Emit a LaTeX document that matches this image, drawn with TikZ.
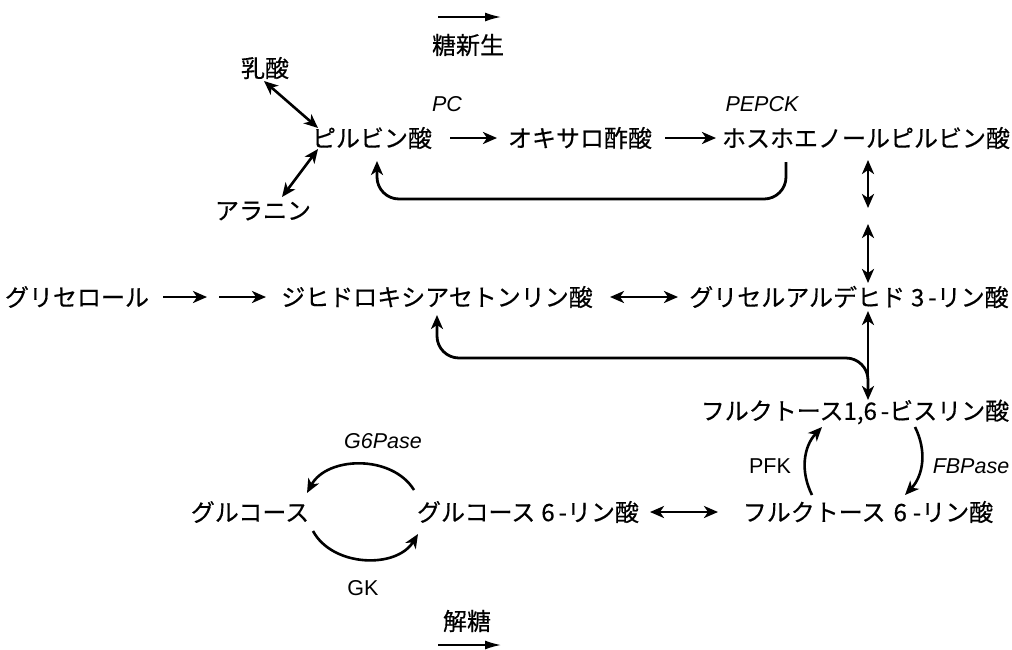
\documentclass[tikz,border=0pt]{standalone}
\usepackage{fontspec}
\setmainfont{Liberation Sans}
\newfontfamily\jp[FakeBold=0.4]{Noto Sans CJK JP}
\usetikzlibrary{arrows.meta}
\begin{document}
\begin{tikzpicture}[x=1pt,y=-1pt,
  lbl/.style={font=\jp\fontsize{24}{27}\selectfont, inner sep=0pt, anchor=center},
  enz/.style={font=\fontsize{21.5}{25}\selectfont\itshape, inner sep=0pt},
  enzu/.style={font=\fontsize{21.5}{25}\selectfont, inner sep=0pt},
  arr/.style={-{Stealth[length=14pt,width=12pt,inset=4pt]}, line width=2.6pt},
  darr/.style={{Stealth[length=14pt,width=12pt,inset=4pt]}-{Stealth[length=14pt,width=12pt,inset=4pt]}, line width=2.6pt},
  thinarr/.style={-{Latex[length=16pt,width=9pt]}, line width=1.6pt},
  curv/.style={-{Stealth[length=14pt,width=12pt,inset=4pt]}, line width=2.8pt, rounded corners=22pt}]
\useasboundingbox (0,0) rectangle (1012,649);
% top direction
\coordinate (ta1) at (438,17); \coordinate (ta2) at (501,17);
\draw[thinarr] (ta1) -- (ta2);
\node[lbl] (tns) at (468,45) {糖新生};
% row 1
\node[lbl] (lac) at (265,68) {乳酸};
\node[lbl] (pyr) at (372,138) {ピルビン酸};
\node[lbl] (ala) at (263,211) {アラニン};
\node[lbl] (oaa) at (580,138) {オキサロ酢酸};
\node[lbl] (pep) at (866,138) {ホスホエノールピルビン酸};
\node[enz] (pc) at (447,104) {PC};
\node[enz] (pepck) at (762,104) {PEPCK};
\coordinate (a1s) at (450,138); \coordinate (a1e) at (497,138);
\draw[arr] (a1s) -- (a1e);
\coordinate (a2s) at (665,138); \coordinate (a2e) at (716,138);
\draw[arr] (a2s) -- (a2e);
\coordinate (l1) at (264,81); \coordinate (l2) at (318,128);
\draw[darr] (l1) -- (l2);
\coordinate (l3) at (282,197); \coordinate (l4) at (318,149);
\draw[darr] (l3) -- (l4);
\coordinate (fb1) at (786,162); \coordinate (fb2) at (786,199);
\coordinate (fb3) at (377,199); \coordinate (fb4) at (377,161);
\draw[curv] (fb1) -- (fb2) -- (fb3) -- (fb4);
% vertical
\coordinate (v1) at (868,160); \coordinate (v2) at (868,208);
\draw[darr] (v1) -- (v2);
\coordinate (v3) at (868,224); \coordinate (v4) at (868,283);
\draw[darr] (v3) -- (v4);
% row 2
\node[lbl] (gly) at (77,297) {グリセロール};
\coordinate (g1) at (163,297); \coordinate (g2) at (207,297);
\draw[arr] (g1) -- (g2);
\coordinate (g3) at (219,297); \coordinate (g4) at (266,297);
\draw[arr] (g3) -- (g4);
\node[lbl] (dhap) at (437,297) {ジヒドロキシアセトンリン酸};
\node[lbl] (g3p) at (849,297) {グリセルアルデヒド\hspace{6pt}3\hspace{4pt}-リン酸};
\coordinate (d1) at (610,297); \coordinate (d2) at (678,297);
\draw[darr] (d1) -- (d2);
\coordinate (v5) at (868,311); \coordinate (v6) at (868,400);
\draw[darr] (v5) -- (v6);
\coordinate (b1) at (868,395); \coordinate (b2) at (868,358);
\coordinate (b3) at (437,358); \coordinate (b4) at (437,315);
\draw[curv] (b1) -- (b2) -- (b3) -- (b4);
% row F16
\node[lbl] (f16) at (855,412) {フルクトース1,6\hspace{4pt}-ビスリン酸};
\node[enzu] (pfk) at (770,466) {PFK};
\node[enz] (fbp) at (971,466) {FBPase};
\coordinate (p1) at (812,495); \coordinate (p2) at (822,427);
\draw[arr] (p1) to[bend left=35] (p2);
\coordinate (p3) at (915,427); \coordinate (p4) at (905,495);
\draw[arr] (p3) to[bend left=35] (p4);
% row 3
\node[lbl] (glc) at (250,512) {グルコース};
\node[lbl] (g6p) at (528,512) {グルコース\hspace{6pt}6\hspace{4pt}-リン酸};
\node[lbl] (f6p) at (868,512) {フルクトース\hspace{8pt}6\hspace{6pt}-リン酸};
\coordinate (e1) at (650,512); \coordinate (e2) at (718,512);
\draw[darr] (e1) -- (e2);
\node[enz] (g6pase) at (383,441) {G6Pase};
\coordinate (h1) at (414,490); \coordinate (h2) at (307,493);
\draw[arr] (h1) to[bend right=60] (h2);
\coordinate (k1) at (313,531); \coordinate (k2) at (418,534);
\draw[arr] (k1) to[bend right=60] (k2);
\node[enzu] (gk) at (363,588) {GK};
% bottom direction
\node[lbl] (kt) at (467,621) {解糖};
\coordinate (ba1) at (438,645); \coordinate (ba2) at (501,645);
\draw[thinarr] (ba1) -- (ba2);
\end{tikzpicture}
\end{document}
